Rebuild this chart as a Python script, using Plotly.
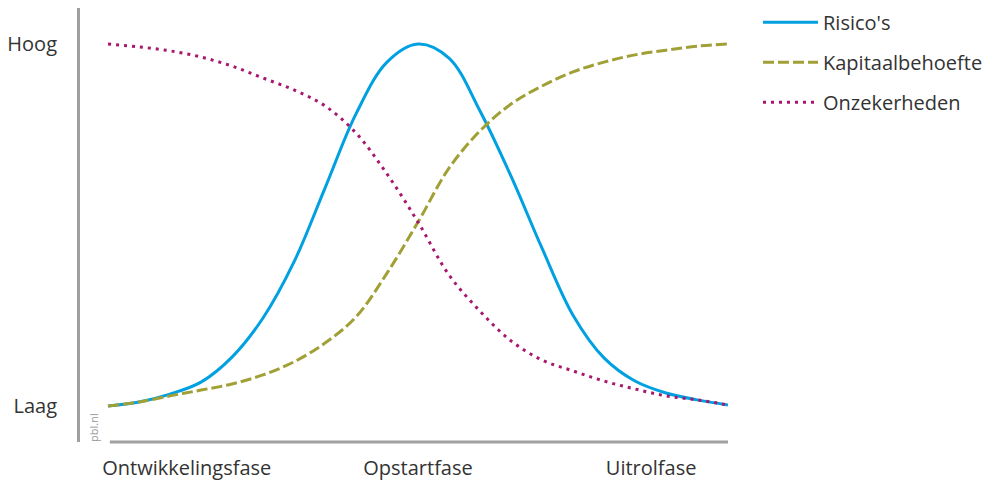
import plotly.graph_objects as go

# Horizontal position along the life cycle (0 = start, 100 = end); level 0 = Laag, 100 = Hoog
pos = [0, 5, 10, 15, 20, 25, 30, 35, 40, 45, 50, 55, 60, 65, 70, 75, 80, 85, 90, 95, 100]

risico_y = [0, 1.1, 3.3, 6.6, 13.5, 24.3, 39.8, 60.2, 80.7, 95.0, 100,
            96.1, 81.5, 63.5, 43.6, 25.1, 13.3, 6.9, 3.6, 1.7, 0.3]
kapitaal_y = [0, 1.1, 2.8, 4.4, 6.1, 8.6, 12.2, 17.4, 24.6, 36.7, 50.8,
              65.7, 76.0, 83.4, 88.4, 92.3, 95.0, 97.0, 98.3, 99.4, 100]
onzeker_y = [100, 99.2, 98.1, 96.4, 93.9, 90.6, 87.3, 82.9, 75.4, 64.1, 50.8,
             36.2, 26.2, 18.0, 12.7, 9.7, 6.9, 4.7, 2.8, 1.7, 0.3]

series_names = ["Risico's", "Kapitaalbehoefte", "Onzekerheden"]
colors = ["#00a0e1", "#a0a036", "#a8176e"]
dashes = ["solid", "11px,4px", "3px,5px"]

phase_pos = [12.7, 50, 87.6]
phase_labels = ["Ontwikkelingsfase", "Opstartfase", "Uitrolfase"]
level_vals = [0, 100]
level_labels = ["Laag", "Hoog"]

FONT = "Open Sans"
TXT = "#333333"

fig = go.Figure()
for name, ys, c, d in zip(series_names, [risico_y, kapitaal_y, onzeker_y], colors, dashes):
    fig.add_trace(go.Scatter(x=pos, y=ys, mode="lines", name=name,
                             legendgroup=name,
                             line=dict(color=c, width=3, dash=d, shape="spline", smoothing=1.0),
                             hoverinfo="skip"))

fig.update_layout(
    width=992, height=483,
    margin=dict(l=80, r=264, t=8, b=41, autoexpand=False),
    paper_bgcolor="white", plot_bgcolor="white",
    font=dict(family=FONT, size=20, color=TXT),
    showlegend=True,
    legend=dict(x=1.0463, y=1.012, xanchor="left", yanchor="top",
                font=dict(family=FONT, size=20, color=TXT),
                tracegroupgap=11, itemwidth=55, bgcolor="rgba(0,0,0,0)"),
    xaxis=dict(range=[-4.516, 100], showgrid=False, zeroline=False, showline=False,
               tickmode="array", tickvals=phase_pos, ticktext=phase_labels,
               ticks="", ticklabelstandoff=12, fixedrange=True, automargin=False),
    yaxis=dict(range=[-9.94, 109.94], showgrid=False, zeroline=False,
               showline=True, linecolor="#a0a0a0", linewidth=3,
               tickmode="array", tickvals=level_vals, ticktext=level_labels,
               ticks="", ticklabelstandoff=16, fixedrange=True, automargin=False),
)

# bottom baseline (starts right of the y-axis line)
fig.add_shape(type="line", xref="x", yref="paper", x0=0.3, x1=100, y0=0, y1=0,
              line=dict(color="#a0a0a0", width=3))

fig.add_annotation(text="pbl.nl", xref="paper", yref="y", x=0.02, y=-5.8,
                   xanchor="center", yanchor="middle",
                   textangle=-90, showarrow=False,
                   font=dict(family=FONT, size=11, color="#9a9a9a"))

fig.write_html("out.html", config={"displayModeBar": False},
               post_script="document.body.style.margin='0';")
